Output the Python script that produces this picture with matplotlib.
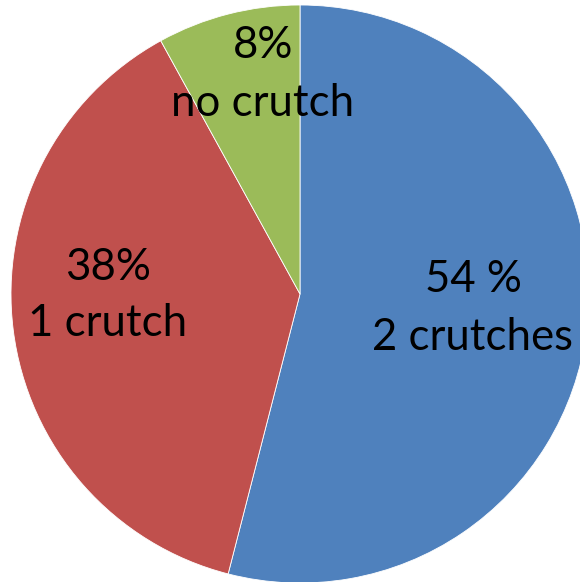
import matplotlib.pyplot as plt

# share of patients by crutch use
categories = ['2 crutches', '1 crutch', 'no crutch']
shares = [54, 38, 8]
pct_labels = ['54 %', '38%', '8%']
colors = ['#4F81BD', '#C0504D', '#9BBB59']

W, H = 580, 582
fig = plt.figure(figsize=(W / 100, H / 100), dpi=100)
ax = fig.add_axes([0, 0, 1, 1])

cx, cy, r = 300, H - 294, 289
ax.pie(shares, colors=colors, startangle=90, counterclock=False,
       center=(cx, cy), radius=r, frame=True,
       wedgeprops=dict(edgecolor='white', linewidth=0.6))
ax.set_xlim(0, W)
ax.set_ylim(0, H)
ax.set_aspect('equal')
ax.axis('off')

# label anchor points (pixel positions of the two text lines)
label_pos = [(473, 280, 337), (108, 268, 323), (263, 45, 103)]
for cat, pct, (x, y1, y2) in zip(categories, pct_labels, label_pos):
    ax.text(x, H - y1, pct, ha='center', va='center', fontsize=31.5, family='Lato')
    ax.text(x, H - y2, cat, ha='center', va='center', fontsize=31.5, family='Lato')

fig.savefig('out.png', dpi=100)
